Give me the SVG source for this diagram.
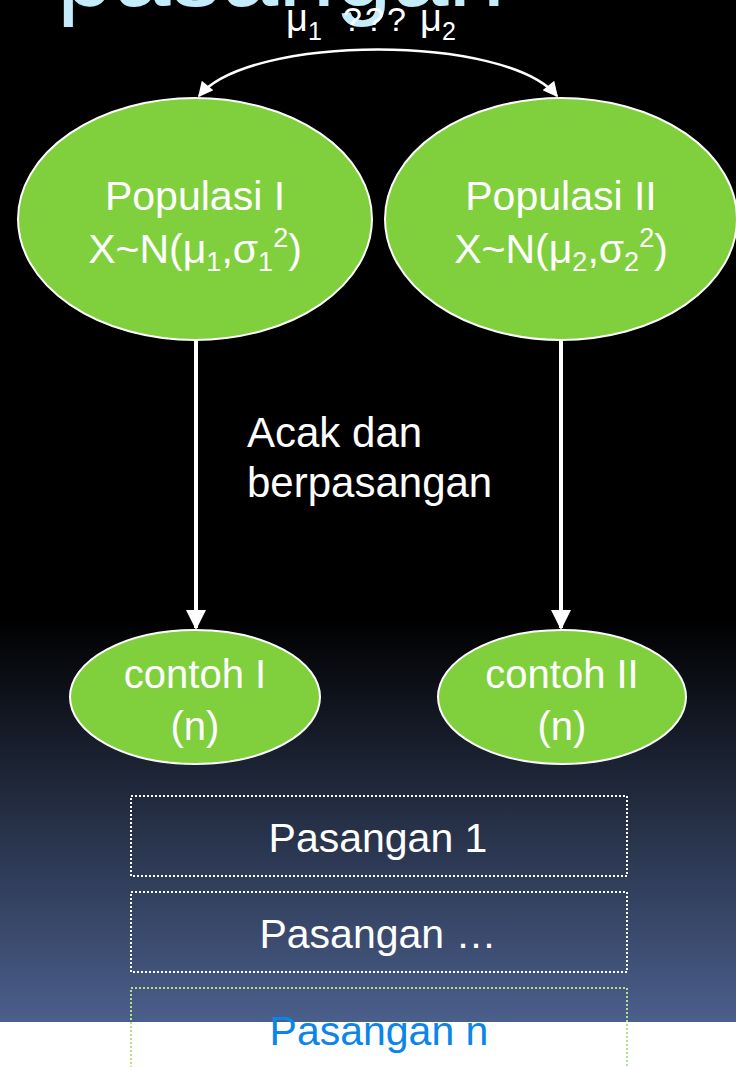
<svg xmlns="http://www.w3.org/2000/svg" width="736" height="1067" viewBox="0 0 736 1067">
  <defs>
    <linearGradient id="bg" x1="0" y1="0" x2="0" y2="1067" gradientUnits="userSpaceOnUse">
      <stop offset="0" stop-color="#000000"/>
      <stop offset="0.58" stop-color="#000000"/>
      <stop offset="0.958" stop-color="#4b5f8c"/>
    </linearGradient>
    <marker id="ah" viewBox="0 0 10 10" refX="9" refY="5" markerWidth="5" markerHeight="5" orient="auto" markerUnits="strokeWidth">
      <path d="M0,0 L10,5 L0,10 z" fill="#ffffff"/>
    </marker>
    <marker id="ahs" viewBox="0 0 10 10" refX="9" refY="5" markerWidth="7" markerHeight="6" orient="auto-start-reverse" markerUnits="strokeWidth">
      <path d="M0,0 L10,5 L0,10 z" fill="#ffffff"/>
    </marker>
    <style>
      .t { font-family: "Liberation Sans", Arial, sans-serif; fill: #ffffff; }
      .ell { fill: #80d03e; stroke: #ffffff; stroke-width: 2; }
      .box { fill: none; stroke: #ffffff; stroke-width: 2; stroke-dasharray: 2 2; }
      .boxg { fill: none; stroke: #b4e08a; stroke-width: 2; stroke-dasharray: 2 2; }
    </style>
  </defs>

  <rect x="0" y="0" width="736" height="1022" fill="url(#bg)"/>
  <rect x="0" y="1022" width="736" height="45" fill="#ffffff"/>

  <text class="t" x="57" y="6" font-size="102" style="fill:#c4ecfc">pasangan</text>

  <g id="label-mu" class="t">
    <text x="286" y="31" font-size="38">μ</text>
    <text x="308" y="40" font-size="25">1</text>
    <text x="343" y="31" font-size="34">?</text>
    <text x="365" y="31" font-size="34">?</text>
    <text x="387" y="31" font-size="34">?</text>
    <text x="420" y="31" font-size="38">μ</text>
    <text x="442" y="40" font-size="25">2</text>
  </g>

  <g id="connectors" fill="none" stroke="#ffffff">
    <path d="M199,96 C250,34 506,34 557,96" stroke-width="2.5" marker-start="url(#ahs)" marker-end="url(#ahs)"/>
    <line x1="196" y1="341" x2="196" y2="628" stroke-width="4" marker-end="url(#ah)"/>
    <line x1="561" y1="341" x2="561" y2="628" stroke-width="4" marker-end="url(#ah)"/>
  </g>

  <g id="pop1">
    <ellipse class="ell" cx="195" cy="219" rx="177" ry="121"/>
    <text class="t" x="195" y="210" font-size="41" text-anchor="middle">Populasi I</text>
    <text class="t" x="195" y="263" font-size="41" text-anchor="middle">X~N(μ<tspan font-size="27" dy="8">1</tspan><tspan dy="-8">,σ</tspan><tspan font-size="27" dy="8">1</tspan><tspan font-size="27" dy="-24">2</tspan><tspan dy="16">)</tspan></text>
  </g>

  <g id="pop2">
    <ellipse class="ell" cx="561" cy="219" rx="176" ry="121"/>
    <text class="t" x="561" y="210" font-size="41" text-anchor="middle">Populasi II</text>
    <text class="t" x="561" y="263" font-size="41" text-anchor="middle">X~N(μ<tspan font-size="27" dy="8">2</tspan><tspan dy="-8">,σ</tspan><tspan font-size="27" dy="8">2</tspan><tspan font-size="27" dy="-24">2</tspan><tspan dy="16">)</tspan></text>
  </g>

  <g id="label-acak">
    <text class="t" x="247" y="447" font-size="42">Acak dan</text>
    <text class="t" x="247" y="497" font-size="42">berpasangan</text>
  </g>

  <g id="contoh1">
    <ellipse class="ell" cx="195" cy="697" rx="125" ry="67"/>
    <text class="t" x="195" y="688" font-size="40" text-anchor="middle">contoh I</text>
    <text class="t" x="195" y="740" font-size="40" text-anchor="middle">(n)</text>
  </g>

  <g id="contoh2">
    <ellipse class="ell" cx="562" cy="697" rx="124" ry="67"/>
    <text class="t" x="562" y="688" font-size="40" text-anchor="middle">contoh II</text>
    <text class="t" x="562" y="740" font-size="40" text-anchor="middle">(n)</text>
  </g>

  <g id="pasangan1">
    <rect class="box" x="131" y="796" width="496" height="80"/>
    <text class="t" x="378" y="852" font-size="41" text-anchor="middle">Pasangan 1</text>
  </g>

  <g id="pasangan2">
    <rect class="box" x="131" y="892" width="496" height="80"/>
    <text class="t" x="378" y="948" font-size="41" text-anchor="middle">Pasangan …</text>
  </g>

  <g id="pasangan3">
    <rect class="boxg" x="131" y="988" width="496" height="100"/>
    <text class="t" x="379" y="1045" font-size="41" text-anchor="middle" style="fill:#0b86e8">Pasangan n</text>
  </g>
</svg>
